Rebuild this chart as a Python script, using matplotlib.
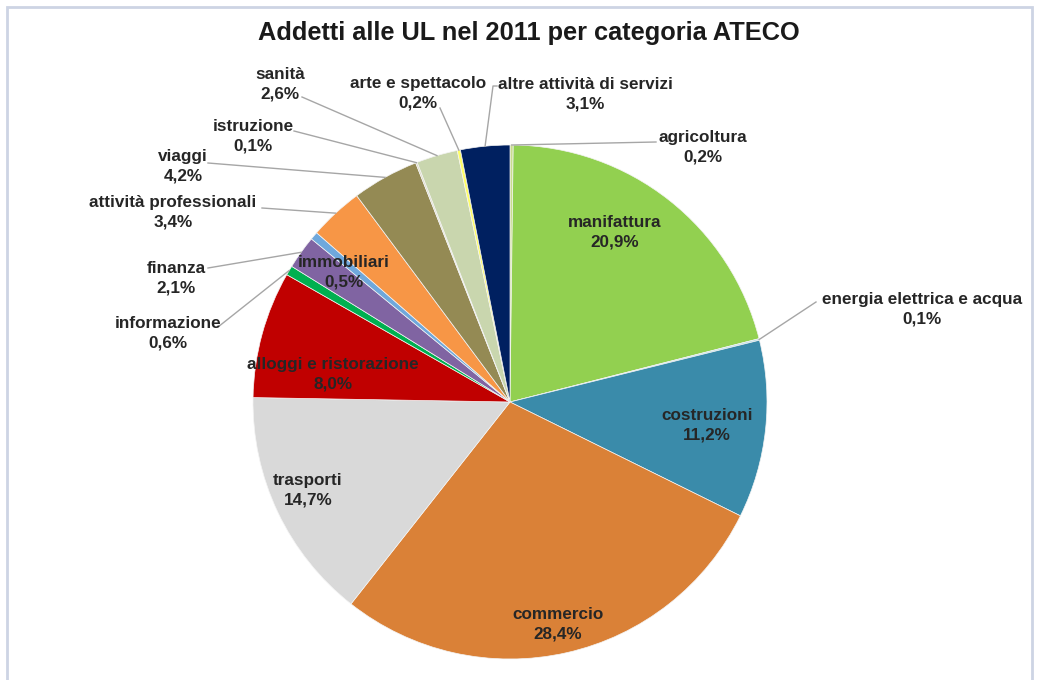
import numpy as np
import matplotlib.pyplot as plt
from matplotlib.patches import Rectangle

plt.rcParams['font.family'] = ['Liberation Sans', 'DejaVu Sans']

categorie = ["agricoltura", "manifattura", "energia elettrica e acqua", "costruzioni",
             "commercio", "trasporti", "alloggi e ristorazione", "informazione",
             "finanza", "immobiliari", "attività professionali", "viaggi",
             "istruzione", "sanità", "arte e spettacolo", "altre attività di servizi"]
quote = [0.2, 20.9, 0.1, 11.2, 28.4, 14.7, 8.0, 0.6,
         2.1, 0.5, 3.4, 4.2, 0.1, 2.6, 0.2, 3.1]
colori = ["#C9DC8E", "#92D050", "#B7DEE8", "#3A8BAA", "#DA8137", "#D9D9D9",
          "#C00000", "#00B050", "#8064A2", "#6FA8DC", "#F79646", "#948A54",
          "#DDD9C3", "#C9D6AE", "#FFFF66", "#002060"]

W, H = 1039, 680


def px(x, y):
    # pixel coordinates measured from the top-left corner
    return x, H - y


# label centre and, for the outside ones, where the leader line starts
etichette = {
    "agricoltura": ((703, 147), (656, 142)),
    "manifattura": ((615, 232), None),
    "energia elettrica e acqua": ((922, 309), (816, 302)),
    "costruzioni": ((707, 425), None),
    "commercio": ((558, 624), None),
    "trasporti": ((308, 490), None),
    "alloggi e ristorazione": ((333, 374), None),
    "informazione": ((168, 333), (218, 327)),
    "finanza": ((176, 278), (208, 268)),
    "immobiliari": ((344, 272), None),
    "attività professionali": ((173, 212), (262, 208)),
    "viaggi": ((183, 166), (208, 163)),
    "istruzione": ((253, 136), (294, 131)),
    "sanità": ((280, 84), (302, 97)),
    "arte e spettacolo": ((418, 93), (440, 108)),
    "altre attività di servizi": ((585, 94), (497, 86)),
}

fig = plt.figure(figsize=(W / 100, H / 100), dpi=100)
ax = fig.add_axes([0, 0, 1, 1])

centro = px(510, 402)
raggio = 257
wedges, _ = ax.pie(quote, colors=colori, startangle=90, counterclock=False,
                   center=centro, radius=raggio,
                   wedgeprops=dict(edgecolor="#F4F4F4", linewidth=0.5))
ax.set_xlim(0, W)
ax.set_ylim(0, H)
ax.set_axis_off()

for w, nome, q in zip(wedges, categorie, quote):
    testo = f"{nome}\n{q:.1f}%".replace(".", ",")
    pos, attacco = etichette[nome]
    ax.text(*px(*pos), testo, ha="center", va="center", fontsize=12.3,
            fontweight="bold", color="#262626", linespacing=1.38, zorder=5)
    if attacco is not None:
        ang = np.radians((w.theta1 + w.theta2) / 2)
        bordo = (centro[0] + raggio * np.cos(ang), centro[1] + raggio * np.sin(ang))
        a = px(*attacco)
        if nome == "altre attività di servizi":
            xs = [a[0], a[0] - 4, bordo[0]]
            ys = [a[1], a[1], bordo[1]]
        else:
            xs = [a[0], bordo[0]]
            ys = [a[1], bordo[1]]
        ax.plot(xs, ys, color="#A6A6A6", linewidth=1, zorder=4)

ax.text(*px(529, 33), "Addetti alle UL nel 2011 per categoria ATECO",
        ha="center", va="center", fontsize=18.3, fontweight="bold", color="#1a1a1a")

ax.add_patch(Rectangle(px(7, 700), W - 14, 700 - 7, fill=False,
                       edgecolor="#CDD4E4", linewidth=2, zorder=6))

fig.savefig("out.png", dpi=100)
